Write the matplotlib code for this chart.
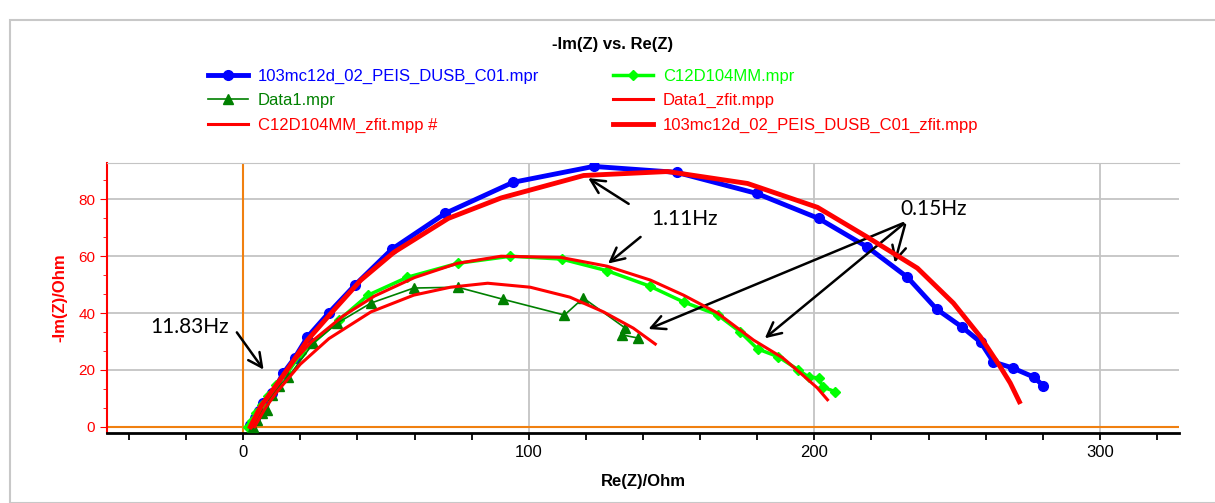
import numpy as np
import matplotlib
matplotlib.use("Agg")
import matplotlib.pyplot as plt
from matplotlib.patches import Rectangle

# --- data (Ohm) ---
blue_re = [2.5, 4.0, 5.5, 7.0, 10.2, 14.1, 18.0, 22.5, 29.9, 39.1, 52.1, 70.8, 94.5, 122.7,
           151.8, 179.8, 201.5, 218.6, 232.6, 242.8, 251.7, 258.2, 262.7, 269.4, 276.8, 280.2]
blue_im = [0.7, 3.0, 5.5, 8.4, 11.9, 18.9, 24.2, 31.6, 40.0, 49.8, 62.5, 75.1, 86.0, 91.6,
           89.5, 82.1, 73.3, 63.2, 52.6, 41.4, 35.1, 29.8, 22.8, 20.7, 17.5, 14.4]
blue_fit_re = [2.5, 6.0, 13.0, 22.5, 31.7, 41.2, 52.8, 71.8, 90.3, 119.2, 148.6, 176.6,
               201.1, 218.6, 236.1, 248.7, 258.2, 265.1, 268.6, 271.8]
blue_fit_im = [0.0, 7.0, 16.5, 30.5, 41.0, 51.6, 61.4, 73.3, 80.5, 88.4, 89.8, 85.6,
               77.2, 66.7, 55.8, 43.5, 31.6, 21.1, 15.4, 8.8]

c12_re = [1.8, 3.2, 4.6, 6.7, 8.8, 11.6, 15.5, 20.4, 33.5, 43.7, 57.5, 75.1, 93.6, 111.5,
          127.4, 142.3, 154.2, 166.1, 174.1, 180.1, 187.4, 194.4, 198.0, 201.5, 202.9, 207.4]
c12_im = [0.0, 2.1, 4.9, 7.7, 10.9, 14.7, 19.0, 26.0, 37.5, 46.3, 52.6, 57.5, 60.0, 59.0,
          54.9, 49.5, 43.9, 39.4, 33.3, 27.4, 24.6, 20.0, 17.5, 17.2, 14.0, 12.3]
c12_fit_re = [3.0, 8.0, 15.0, 24.0, 35.0, 46.0, 60.0, 75.0, 90.3, 111.1, 127.4, 142.6,
              154.2, 166.1, 178.7, 189.0, 195.0, 201.0, 204.6]
c12_fit_im = [0.0, 10.0, 20.0, 30.0, 39.0, 46.0, 52.5, 57.5, 60.0, 59.6, 56.5, 51.6,
              46.3, 40.0, 30.5, 24.2, 19.0, 13.7, 9.5]

d1_re = [3.5, 5.0, 6.5, 8.4, 10.0, 12.5, 15.8, 24.6, 33.0, 44.7, 59.7, 75.1, 90.8, 112.5,
         119.1, 133.8, 132.8, 138.3]
d1_im = [0.0, 2.5, 5.0, 6.0, 11.0, 14.5, 17.5, 29.5, 36.5, 43.5, 48.8, 49.1, 44.9, 39.3,
         45.3, 34.7, 32.3, 31.2]
d1_fit_re = [4.0, 8.0, 12.0, 20.0, 30.0, 44.7, 59.7, 72.6, 85.6, 100.5, 114.4, 126.2, 136.6, 144.3]
d1_fit_im = [0.0, 7.0, 12.5, 22.0, 31.0, 40.4, 46.3, 49.1, 50.5, 49.1, 45.6, 40.4, 34.7, 29.1]

narrow = ["Liberation Sans Narrow", "Liberation Sans", "DejaVu Sans"]

fig = plt.figure(figsize=(12.15, 5.03), dpi=100)
fig.patches.append(Rectangle((10 / 1215, 0), 1.2, 1 - 20 / 503, transform=fig.transFigure,
                             fill=False, edgecolor="#c8c8c8", lw=1.5))
ax = fig.add_axes([107 / 1215, 1 - 433 / 503, 1072 / 1215, 270 / 503])

ax.axvline(0, color="#f08010", lw=1.5, zorder=1)
ax.axhline(0, color="#f08010", lw=1.5, zorder=1)

l1, = ax.plot(blue_re, blue_im, "-o", color="blue", lw=3.5, ms=7, label="103mc12d_02_PEIS_DUSB_C01.mpr", zorder=3)
l2, = ax.plot(c12_re, c12_im, "-D", color="#00ff00", lw=2.5, ms=5.5, label="C12D104MM.mpr", zorder=3)
l3, = ax.plot(d1_re, d1_im, "-^", color="#008000", lw=1.2, ms=7, label="Data1.mpr", zorder=3)
l4, = ax.plot(d1_fit_re, d1_fit_im, "-", color="red", lw=2.2, label="Data1_zfit.mpp", zorder=4)
l5, = ax.plot(c12_fit_re, c12_fit_im, "-", color="red", lw=2.2, label="C12D104MM_zfit.mpp #", zorder=4)
l6, = ax.plot(blue_fit_re, blue_fit_im, "-", color="red", lw=3.5, label="103mc12d_02_PEIS_DUSB_C01_zfit.mpp", zorder=4)

ax.set_xlim(-47.7, 327.7)
ax.set_ylim(-2.2, 92.8)
ax.set_xticks([0, 100, 200, 300])
ax.set_xticks(np.arange(-40, 330, 20), minor=True)
ax.set_yticks([0, 20, 40, 60, 80])
ax.set_yticks(np.arange(0, 93, 20 / 3), minor=True)
ax.grid(True, which="major", color="#c4c4c4", lw=1.3)
ax.set_axisbelow(True)

ax.spines["right"].set_visible(False)
ax.spines["top"].set_color("#c4c4c4")
ax.spines["left"].set_color("red")
ax.spines["left"].set_linewidth(1.5)
ax.spines["bottom"].set_linewidth(2)
ax.tick_params(axis="y", which="both", colors="red", labelsize=11)
ax.tick_params(axis="y", which="major", length=5)
ax.tick_params(axis="y", which="minor", length=3)
ax.tick_params(axis="x", which="both", labelsize=12, length=5, width=1.3)
for t in ax.get_xticklabels() + ax.get_yticklabels():
    t.set_family(narrow)

ax.set_xlabel("Re(Z)/Ohm", fontsize=12, fontweight="bold", family=narrow, labelpad=10)
ax.set_ylabel("-Im(Z)/Ohm", fontsize=12, fontweight="bold", color="red", family=narrow, labelpad=8)

fig.text(0.504, 1 - 45 / 503, "-Im(Z) vs. Re(Z)", ha="center", va="center",
         fontsize=12, fontweight="bold", family=narrow)

handles = [l1, l3, l5, l2, l4, l6]
leg = fig.legend(handles=handles, loc="upper left", bbox_to_anchor=(208 / 1215, 1 - 69 / 503), ncol=2,
                 frameon=False, labelcolor="linecolor", prop={"family": narrow, "size": 12},
                 handlelength=2.4, columnspacing=4.4, labelspacing=0.55, handletextpad=0.6,
                 borderpad=0, borderaxespad=0)

# annotations
akw = dict(arrowstyle="->", color="black", lw=1.8, mutation_scale=25)
tkw = dict(fontsize=15, family=["Lato", "DejaVu Sans"], ha="center", va="center")
ax.annotate("", xy=(7.7, 19.3), xytext=(-2.8, 34), arrowprops=akw)
ax.text(-18.7, 35, "11.83Hz", **tkw)
ax.annotate("", xy=(120.0, 88), xytext=(135.8, 77.9), arrowprops=akw)
ax.annotate("", xy=(127.0, 56.8), xytext=(139.9, 67.4), arrowprops=akw)
ax.text(154.4, 73, "1.11Hz", **tkw)
for hx, hy in [(141.0, 34), (181.9, 30.5), (227.9, 56.8)]:
    ax.annotate("", xy=(hx, hy), xytext=(232, 72), arrowprops=akw)
ax.text(241.6, 76.5, "0.15Hz", **tkw)

fig.savefig("out.png", dpi=100)
